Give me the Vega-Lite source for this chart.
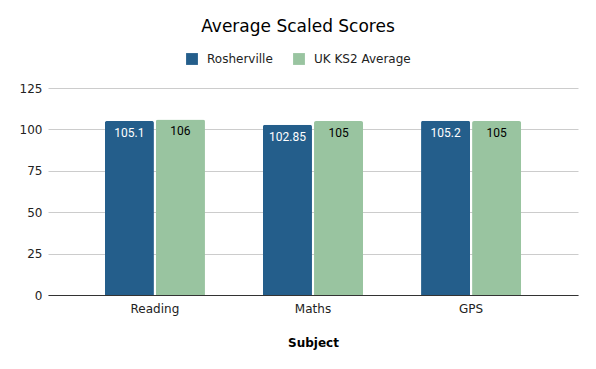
{
  "$schema": "https://vega.github.io/schema/vega-lite/v6.json",
  "width": 530,
  "height": 207,
  "autosize": {"type": "none"},
  "padding": {"left": 48, "top": 88, "right": 18, "bottom": 74},
  "background": "white",
  "config": {"view": {"stroke": null}},
  "title": {
    "text": "Average Scaled Scores",
    "font": "DejaVu Sans",
    "fontSize": 17,
    "fontWeight": "normal",
    "color": "#000000",
    "anchor": "middle",
    "dx": -15,
    "offset": 17
  },
  "data": {
    "values": [
      {"Subject": "Reading", "series": "Rosherville", "value": 105.1},
      {"Subject": "Reading", "series": "UK KS2 Average", "value": 106},
      {"Subject": "Maths", "series": "Rosherville", "value": 102.85},
      {"Subject": "Maths", "series": "UK KS2 Average", "value": 105},
      {"Subject": "GPS", "series": "Rosherville", "value": 105.2},
      {"Subject": "GPS", "series": "UK KS2 Average", "value": 105}
    ]
  },
  "encoding": {
    "x": {
      "field": "Subject",
      "type": "nominal",
      "sort": ["Reading", "Maths", "GPS"],
      "scale": {"paddingInner": 0.367, "paddingOuter": 0.36},
      "axis": {
        "labelAngle": 0,
        "labelFont": "DejaVu Sans",
        "labelFontSize": 12,
        "labelColor": "#222222",
        "labelPadding": 8,
        "ticks": false,
        "domainColor": "#333333",
        "domainWidth": 1,
        "title": "Subject",
        "titleFont": "DejaVu Sans",
        "titleFontSize": 12,
        "titleFontWeight": "bold",
        "titleColor": "#000000",
        "titlePadding": 23
      }
    },
    "xOffset": {
      "field": "series",
      "type": "nominal",
      "scale": {"paddingInner": 0.04}
    },
    "y": {
      "field": "value",
      "type": "quantitative",
      "scale": {"domain": [0, 125]},
      "axis": {
        "values": [0, 25, 50, 75, 100, 125],
        "title": null,
        "domain": false,
        "ticks": false,
        "labelFont": "DejaVu Sans",
        "labelFontSize": 12,
        "labelColor": "#222222",
        "labelPadding": 6,
        "gridColor": "#cccccc",
        "gridWidth": 1
      }
    }
  },
  "layer": [
    {
      "mark": {"type": "bar", "cornerRadiusTopLeft": 2, "cornerRadiusTopRight": 2},
      "encoding": {
        "color": {
          "field": "series",
          "type": "nominal",
          "scale": {"domain": ["Rosherville", "UK KS2 Average"], "range": ["#245e8b", "#99c4a0"]},
          "legend": {
            "title": null,
            "orient": "none",
            "direction": "horizontal",
            "legendX": 138,
            "legendY": -35,
            "symbolType": "square",
            "symbolSize": 140,
            "symbolStrokeWidth": 0,
            "labelFont": "DejaVu Sans",
            "labelFontSize": 12,
            "labelColor": "#222222",
            "columnPadding": 20,
            "labelOffset": 9
          }
        }
      }
    },
    {
      "mark": {"type": "text", "baseline": "middle", "dy": 12, "font": "Roboto", "fontSize": 12},
      "encoding": {
        "text": {"field": "value", "type": "quantitative"},
        "color": {
          "condition": {"test": "datum.series === 'Rosherville'", "value": "#ffffff"},
          "value": "#000000"
        }
      }
    }
  ]
}
